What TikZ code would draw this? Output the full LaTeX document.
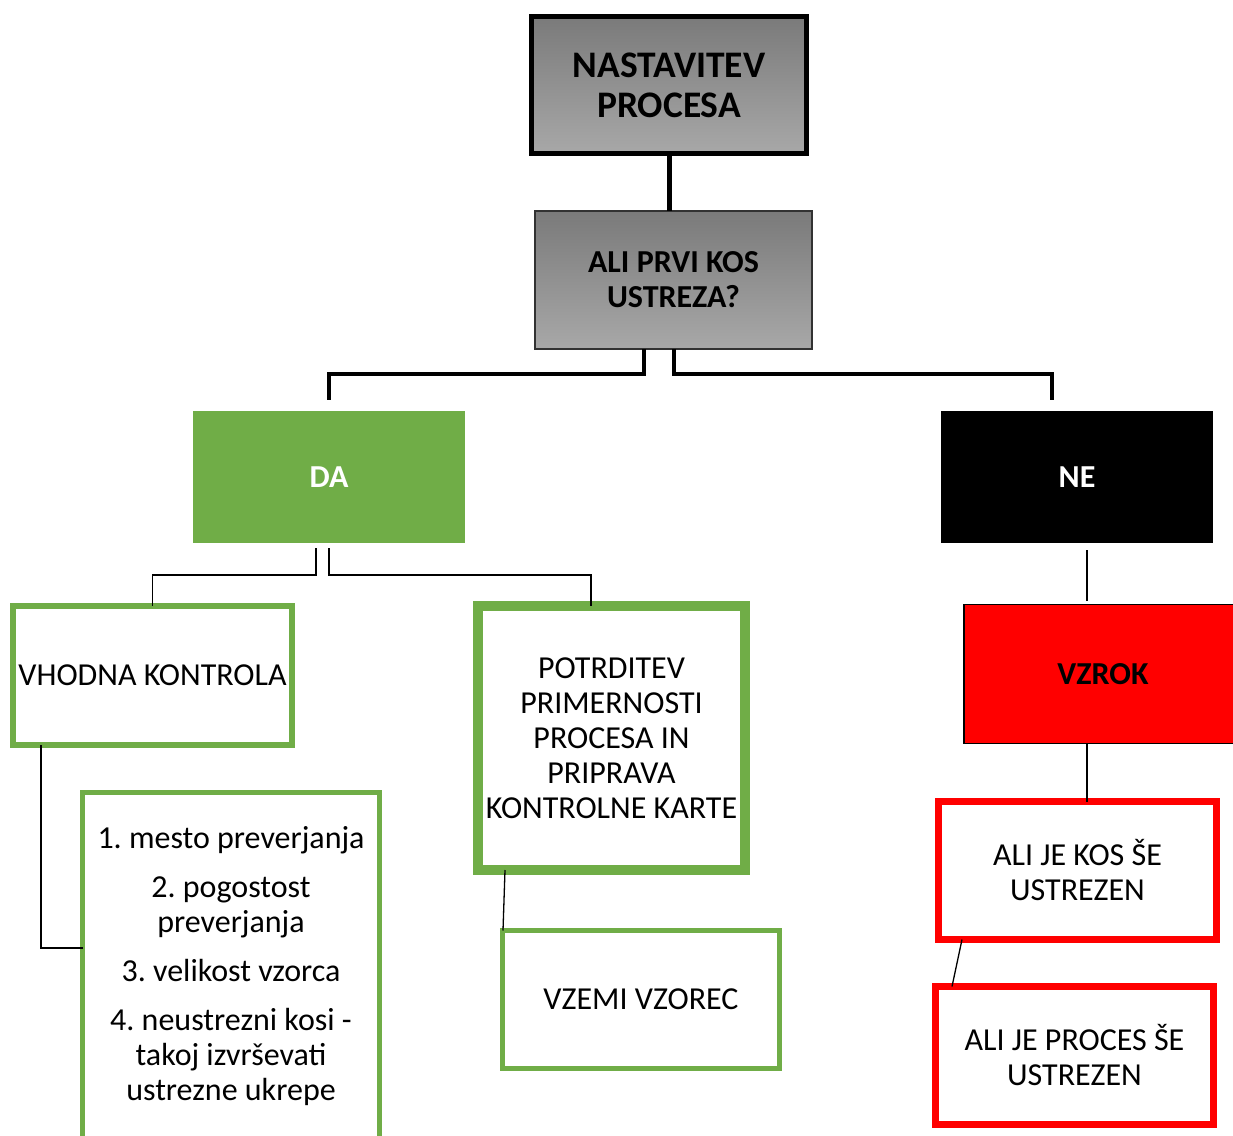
\documentclass[tikz,border=0pt]{standalone}
\usepackage{fontspec}
\setmainfont{Carlito}
\usetikzlibrary{calc}
\definecolor{xgreen}{HTML}{70AD47}
\definecolor{xred}{HTML}{FF0000}
\definecolor{gtop}{RGB}{122,122,122}
\definecolor{gbot}{RGB}{168,168,168}
\definecolor{qborder}{RGB}{50,50,50}
\frenchspacing
\begin{document}
\begin{tikzpicture}[x=1pt,y=-1pt,
  box/.style={rectangle,inner sep=0pt,outer sep=0pt,align=center,font=\fontsize{32}{35}\selectfont},
  graybox/.style={box,top color=gtop,bottom color=gbot,font=\fontsize{32}{35}\selectfont\bfseries},
  greenbox/.style={box,draw=xgreen},
  redbox/.style={box,draw=xred,line width=7pt},
  thickc/.style={line width=4pt,black},
  thinc/.style={line width=1.3pt,black},
]
\useasboundingbox (0,0) rectangle (1233,1135);
\node[graybox,draw=black,line width=5pt,minimum width=275pt,minimum height=137pt,font=\fontsize{37.5}{40}\selectfont\bfseries] (top) at (669,85) {NASTAVITEV\\PROCESA};
\node[graybox,draw=qborder,line width=1.2pt,minimum width=277pt,minimum height=138pt] (q) at (673.5,280) {ALI PRVI KOS\\USTREZA?};
\node[box,fill=xgreen,text=white,font=\fontsize{32}{35}\selectfont\bfseries,minimum width=272pt,minimum height=132pt] (da) at (329,477) {DA};
\node[box,fill=black,text=white,font=\fontsize{32}{35}\selectfont\bfseries,minimum width=272pt,minimum height=132pt] (ne) at (1077,477) {NE};
\node[greenbox,line width=6pt,minimum width=279pt,minimum height=139pt] (vhod) at (152.5,675.5) {VHODNA KONTROLA};
\node[greenbox,line width=10pt,minimum width=267pt,minimum height=264pt] (potr) at (611.5,738) {POTRDITEV\\PRIMERNOSTI\\PROCESA IN\\PRIPRAVA\\KONTROLNE KARTE};
\node[greenbox,line width=5pt,minimum width=297pt,minimum height=347pt] (list) at (231,966) {1. mesto preverjanja\\[14pt]2. pogostost\\preverjanja\\[14pt]3. velikost vzorca\\[14pt]4. neustrezni kosi -\\takoj izvrševati\\ustrezne ukrepe};
\node[greenbox,line width=5pt,minimum width=277pt,minimum height=138pt] (vzemi) at (641,999.5) {VZEMI VZOREC};
\node[box,fill=xred,draw=black,line width=1.5pt,font=\fontsize{32}{35}\selectfont\bfseries,minimum width=278.5pt,minimum height=139pt] (vzrok) at (1103,674) {VZROK};
\node[redbox,minimum width=278pt,minimum height=138pt] (kos) at (1077.5,870.5) {ALI JE KOS ŠE\\USTREZEN};
\node[redbox,minimum width=278pt,minimum height=138pt] (proc) at (1074.5,1055.5) {ALI JE PROCES ŠE\\USTREZEN};
% connectors
\draw[line width=5pt] (top.south) -- (q.north -| top.south);
\draw[thickc] ([xshift=-29.5pt]q.south) -- ++(0,25) -| ([yshift=11pt]da.north);
\draw[thickc] ([xshift=0.5pt]q.south) -- ++(0,25) -| ([xshift=-25pt,yshift=11pt]ne.north);
\draw[thinc] ([xshift=-13pt,yshift=-5pt]da.south) -- ++(0,27) -| (vhod.north);
\draw[thinc] ([yshift=-5pt]da.south) -- ++(0,27) -| ([xshift=-20.5pt]potr.north);
\draw[thinc] ([xshift=-111.5pt]vhod.south) |- ([yshift=18pt]list.west);
\draw[thinc] ([xshift=-106.5pt]potr.south) -- ([xshift=-138pt]vzemi.north);
\draw[thinc] ([xshift=10pt,yshift=-7pt]ne.south) -- ([xshift=-16pt,yshift=4pt]vzrok.north);
\draw[thinc] ([xshift=-16pt]vzrok.south) -- ([xshift=9.5pt]kos.north);
\draw[thinc] ([xshift=-115.5pt]kos.south) -- ([xshift=-122.5pt]proc.north);
\end{tikzpicture}
\end{document}
